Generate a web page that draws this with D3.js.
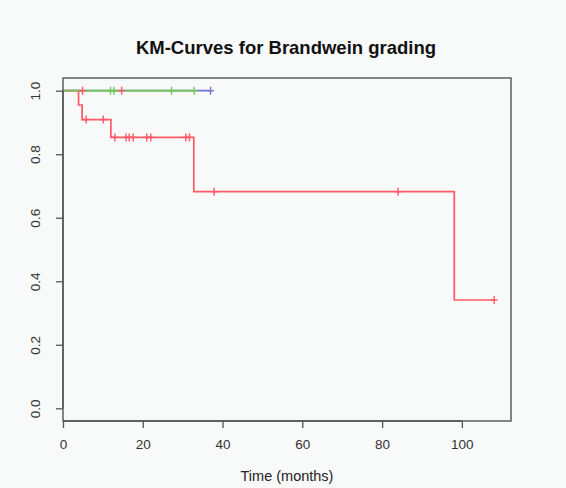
<!DOCTYPE html>
<html>
<head>
<meta charset="utf-8">
<script src="https://cdn.jsdelivr.net/npm/d3@7"></script>
<style>
  body { margin: 0; background: #f8f9f9; }
  svg { display: block; font-family: "Liberation Sans", Arial, sans-serif; }
</style>
</head>
<body>
<svg id="chart"></svg>
<script>
// step curves: times where survival drops, and the level after each drop
const redTimes = [0, 3.9, 4.8, 12.0, 32.8, 98.1];
const redSurv = [1.0, 0.955, 0.909, 0.853, 0.682, 0.341];
const redEnd = 108.1;
const greenTimes = [0];
const greenSurv = [1.0];
const greenEnd = 32.9;
const blueTimes = [0];
const blueSurv = [1.0];
const blueEnd = 37.0;

// censor marks [time, survival]
const redMarks = [[4.9, 1.0], [14.7, 1.0], [5.8, 0.909], [10.1, 0.909],
  [13.0, 0.853], [15.8, 0.853], [16.6, 0.853], [17.6, 0.853], [21.0, 0.853],
  [22.0, 0.853], [30.8, 0.853], [31.7, 0.853], [37.9, 0.682], [84.0, 0.682],
  [108.1, 0.341]];
const greenMarks = [[11.9, 1.0], [12.8, 1.0], [27.2, 1.0], [32.9, 1.0]];
const blueMarks = [[37.0, 1.0]];

const xTicks = [0, 20, 40, 60, 80, 100];
const yTicks = [0, 0.2, 0.4, 0.6, 0.8, 1.0];

const width = 566, height = 488;
const svg = d3.select("#chart").attr("width", width).attr("height", height);

const x = d3.scaleLinear().domain([0, 112.32]).range([63, 511]);
const y = d3.scaleLinear().domain([-0.04, 1.04]).range([421, 78]);

function stepPoints(times, surv, end) {
    const pts = [];
    times.forEach((t, i) => {
        if (i > 0) pts.push([t, surv[i - 1]]);
        pts.push([t, surv[i]]);
    });
    pts.push([end, surv[surv.length - 1]]);
    return pts;
}

const line = d3.line().x(d => x(d[0])).y(d => y(d[1]));

const curves = [
    { pts: stepPoints(blueTimes, blueSurv, blueEnd), marks: blueMarks, color: "#7474d8" },
    { pts: stepPoints(redTimes, redSurv, redEnd), marks: redMarks, color: "#ff5a66" },
    { pts: stepPoints(greenTimes, greenSurv, greenEnd), marks: greenMarks, color: "#72c955" }
];

curves.forEach(c => {
    svg.append("path")
       .attr("d", line(c.pts))
       .attr("fill", "none")
       .attr("stroke", c.color)
       .attr("stroke-width", 1.7);
});

curves.forEach(c => {
    c.marks.forEach(m => {
        svg.append("line")
           .attr("x1", x(m[0])).attr("x2", x(m[0]))
           .attr("y1", y(m[1]) - 4).attr("y2", y(m[1]) + 4)
           .attr("stroke", c.color)
           .attr("stroke-width", 1.4);
        svg.append("line")
           .attr("x1", x(m[0]) - 3.5).attr("x2", x(m[0]) + 3.5)
           .attr("y1", y(m[1])).attr("y2", y(m[1]))
           .attr("stroke", c.color)
           .attr("stroke-width", 1.4);
    });
});

// box
svg.append("rect")
   .attr("x", 63).attr("y", 78)
   .attr("width", 448).attr("height", 343)
   .attr("fill", "none")
   .attr("stroke", "#555")
   .attr("stroke-width", 1.4);

const xAxis = svg.append("g")
   .attr("transform", "translate(0,421)")
   .call(d3.axisBottom(x).tickValues(xTicks).tickSize(7).tickPadding(11).tickSizeOuter(0));
xAxis.select(".domain").attr("d", `M${x(0)},0H${x(100)}`).attr("stroke", "#555").attr("stroke-width", 1.4);

const yAxis = svg.append("g")
   .attr("transform", "translate(63,0)")
   .call(d3.axisLeft(y).tickValues(yTicks).tickFormat(d3.format(".1f")).tickSize(7).tickSizeOuter(0));
yAxis.select(".domain").attr("d", `M0,${y(0)}V${y(1)}`).attr("stroke", "#555").attr("stroke-width", 1.4);
yAxis.selectAll("text")
   .attr("x", null)
   .attr("dy", "0.35em")
   .attr("text-anchor", "middle")
   .attr("transform", "translate(-28,0) rotate(-90)");

svg.selectAll(".tick line").attr("stroke", "#555").attr("stroke-width", 1.3);
svg.selectAll(".tick text")
   .attr("fill", "#333")
   .style("font-size", "13.5px")
   .style("font-family", "Liberation Sans, Arial, sans-serif");

svg.append("text")
   .attr("x", 287).attr("y", 481)
   .attr("text-anchor", "middle")
   .attr("fill", "#222")
   .style("font-size", "14.5px")
   .text("Time (months)");

svg.append("text")
   .attr("x", 286).attr("y", 54)
   .attr("text-anchor", "middle")
   .attr("fill", "#111")
   .style("font-size", "18.5px")
   .style("font-weight", "bold")
   .text("KM-Curves for Brandwein grading");
</script>
</body>
</html>
